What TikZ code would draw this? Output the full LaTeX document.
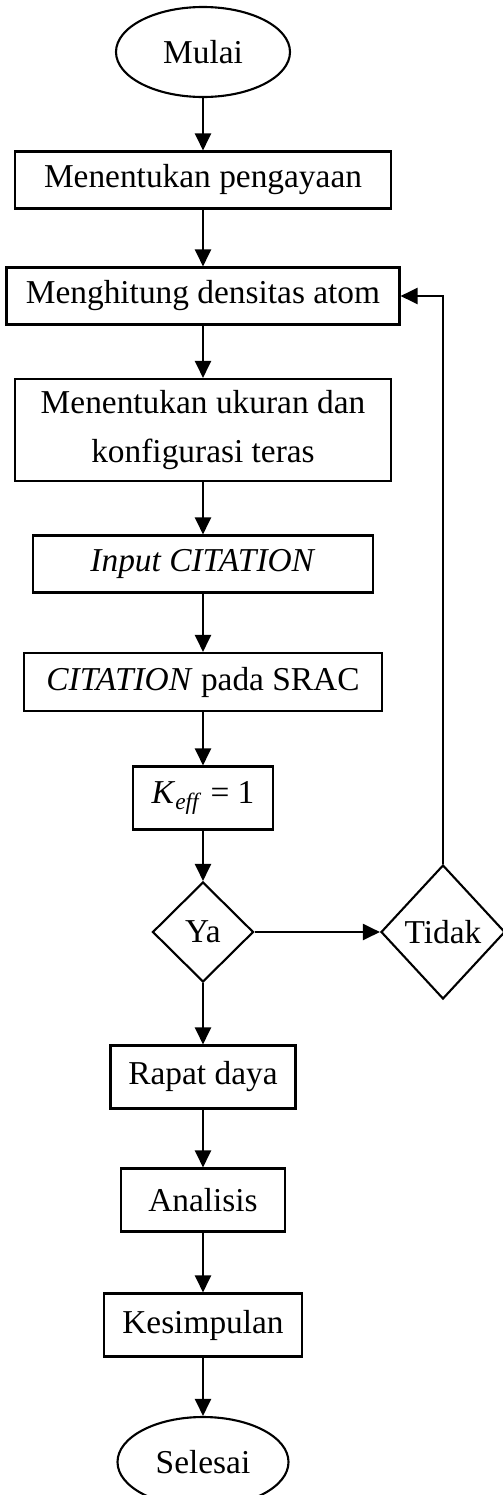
\documentclass[tikz,border=0pt]{standalone}
\usepackage{fontspec}
\setmainfont{Liberation Serif}
\usetikzlibrary{shapes.geometric,arrows.meta,positioning}
\begin{document}
\begin{tikzpicture}[
  >={Triangle[length=0.34cm,width=0.32cm]},
  line width=1.2pt,
  font=\fontsize{19}{28}\selectfont,
  term/.style={ellipse, draw, minimum width=3.48cm, minimum height=1.8cm, inner sep=0pt},
  block/.style={rectangle, draw, minimum height=1.14cm, align=center, inner sep=0pt},
  decision/.style={diamond, draw, inner sep=0pt}
]
\useasboundingbox (0,0) rectangle (10.04,-29.9);

% Main column
\node[term] (mulai) at (4.06,-1.04) {Mulai};
\node[block, below of=mulai, node distance=2.56cm, minimum width=7.52cm] (pengayaan) {Menentukan pengayaan};
\node[block, below of=pengayaan, node distance=2.32cm, minimum width=7.86cm] (densitas) {Menghitung densitas atom};
\node[block, below of=densitas, node distance=2.68cm, minimum width=7.52cm, minimum height=2.04cm] (teras) {Menentukan ukuran dan\\konfigurasi teras};
\node[block, below of=teras, node distance=2.68cm, minimum width=6.8cm] (input) {\textit{Input CITATION}};
\node[block, below of=input, node distance=2.36cm, minimum width=7.16cm, minimum height=1.16cm] (srac) {\textit{CITATION} pada SRAC};
\node[block, below of=srac, node distance=2.32cm, minimum width=2.8cm, minimum height=1.26cm] (keff) {\textit{K}\textsubscript{\textit{eff}} = 1};

% Decisions
\node[decision, below of=keff, node distance=2.68cm, minimum width=2.02cm, minimum height=2cm] (ya) {Ya};
\node[decision, right of=ya, node distance=4.8cm, minimum width=2.48cm, minimum height=2.68cm] (tidak) {Tidak};

% Results
\node[block, below of=ya, node distance=2.9cm, minimum width=3.7cm, minimum height=1.26cm] (rapat) {Rapat daya};
\node[block, below of=rapat, node distance=2.46cm, minimum width=3.28cm, minimum height=1.26cm] (analisis) {Analisis};
\node[block, below of=analisis, node distance=2.5cm, minimum width=3.96cm, minimum height=1.26cm] (kesimpulan) {Kesimpulan};
\node[term, below of=kesimpulan, node distance=2.74cm, minimum width=3.42cm] (selesai) {Selesai};

% Arrows
\draw[->] (mulai) -- (pengayaan);
\draw[->] (pengayaan) -- (densitas);
\draw[->] (densitas) -- (teras);
\draw[->] (teras) -- (input);
\draw[->] (input) -- (srac);
\draw[->] (srac) -- (keff);
\draw[->] (keff) -- (ya);
\draw[->] (ya) -- (tidak);
\draw[->] (tidak.north) |- (densitas.east);
\draw[->] (ya) -- (rapat);
\draw[->] (rapat) -- (analisis);
\draw[->] (analisis) -- (kesimpulan);
\draw[->] (kesimpulan) -- (selesai);
\end{tikzpicture}
\end{document}
